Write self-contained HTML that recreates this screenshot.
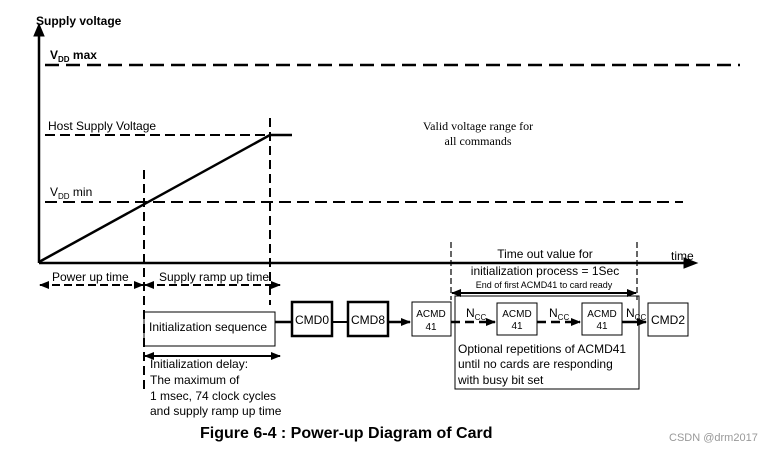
<!DOCTYPE html>
<html><head><meta charset="utf-8"><style>
body{margin:0;background:#fff;}
svg{display:block;font-family:"Liberation Sans",sans-serif;}
</style></head><body>
<svg width="773" height="452" viewBox="0 0 773 452">
<defs>
<marker id="a" markerWidth="10" markerHeight="8" refX="9" refY="4" orient="auto" markerUnits="userSpaceOnUse"><path d="M0,0 L10,4 L0,8z" fill="#000"/></marker>
<marker id="b" markerWidth="10" markerHeight="8" refX="1" refY="4" orient="auto" markerUnits="userSpaceOnUse"><path d="M10,0 L0,4 L10,8z" fill="#000"/></marker>
</defs>
<g stroke="#000" fill="none">
<line x1="39" y1="263" x2="39" y2="30" stroke-width="2.5"/>
<path d="M34,36 L39,24 L44,36z" fill="#000"/>
<line x1="39" y1="263" x2="686" y2="263" stroke-width="2.5"/>
<path d="M684,258 L697,263 L684,268z" fill="#000"/>
<line x1="45" y1="65" x2="740" y2="65" stroke-width="2.5" stroke-dasharray="14,7"/>
<line x1="45" y1="135" x2="270" y2="135" stroke-width="2" stroke-dasharray="10,5"/>
<line x1="270" y1="135" x2="292" y2="135" stroke-width="2.5"/>
<line x1="45" y1="202" x2="683" y2="202" stroke-width="2" stroke-dasharray="12,6"/>
<line x1="39" y1="262" x2="270" y2="135" stroke-width="2.5"/>
<line x1="144" y1="170" x2="144" y2="390" stroke-width="2" stroke-dasharray="9,5"/>
<line x1="270" y1="118" x2="270" y2="305" stroke-width="2" stroke-dasharray="9,5"/>
<line x1="40" y1="285" x2="143" y2="285" stroke-width="2" stroke-dasharray="8,4" marker-start="url(#b)" marker-end="url(#a)"/>
<line x1="145" y1="285" x2="280" y2="285" stroke-width="2" stroke-dasharray="8,4" marker-start="url(#b)" marker-end="url(#a)"/>
<line x1="145" y1="356" x2="280" y2="356" stroke-width="2" marker-start="url(#b)" marker-end="url(#a)"/>
<line x1="451" y1="242" x2="451" y2="300" stroke-width="1.2" stroke-dasharray="6,3"/>
<line x1="637" y1="242" x2="637" y2="300" stroke-width="1.2" stroke-dasharray="6,3"/>
<line x1="452" y1="293" x2="636" y2="293" stroke-width="2" marker-start="url(#b)" marker-end="url(#a)"/>
<rect x="144" y="312" width="131" height="34" stroke-width="1"/>
<line x1="275" y1="322" x2="292" y2="322" stroke-width="2.5"/>
<rect x="292" y="302" width="40" height="34" stroke-width="2.5"/>
<line x1="332" y1="322" x2="348" y2="322" stroke-width="2"/>
<rect x="348" y="302" width="40" height="34" stroke-width="2.5"/>
<line x1="388" y1="322" x2="410" y2="322" stroke-width="2.5" marker-end="url(#a)"/>
<rect x="412" y="302" width="39" height="34" stroke-width="1"/>
<rect x="455" y="296" width="184" height="93" stroke-width="1"/>
<line x1="451" y1="322" x2="495" y2="322" stroke-width="2.5" stroke-dasharray="9,5" marker-end="url(#a)"/>
<rect x="497" y="303" width="40" height="32" stroke-width="1"/>
<line x1="537" y1="322" x2="580" y2="322" stroke-width="2.5" stroke-dasharray="9,5" marker-end="url(#a)"/>
<rect x="582" y="303" width="40" height="32" stroke-width="1"/>
<line x1="622" y1="322" x2="646" y2="322" stroke-width="2.5" marker-end="url(#a)"/>
<rect x="648" y="303" width="40" height="33" stroke-width="1"/>
</g>
<g font-size="12" fill="#000">
<text x="36" y="25" font-weight="bold" font-size="12">Supply voltage</text>
<text x="50" y="59" font-weight="bold">V<tspan font-size="8" dy="3">DD</tspan><tspan dy="-3"> max</tspan></text>
<text x="48" y="130">Host Supply Voltage</text>
<text x="50" y="196">V<tspan font-size="8" dy="3">DD</tspan><tspan dy="-3"> min</tspan></text>
<text x="478" y="130" font-family="Liberation Serif,serif" text-anchor="middle">Valid voltage range for</text>
<text x="478" y="145" font-family="Liberation Serif,serif" text-anchor="middle">all commands</text>
<text x="671" y="260">time</text>
<text x="52" y="281">Power up time</text>
<text x="159" y="281">Supply ramp up time</text>
<text x="545" y="258" text-anchor="middle">Time out value for</text>
<text x="545" y="275" text-anchor="middle">initialization process = 1Sec</text>
<text x="544" y="288" text-anchor="middle" font-size="9">End of first ACMD41 to card ready</text>
<text x="149" y="331">Initialization sequence</text>
<text x="312" y="324" text-anchor="middle">CMD0</text>
<text x="368" y="324" text-anchor="middle">CMD8</text>
<text x="431" y="317" text-anchor="middle" font-size="10">ACMD</text>
<text x="431" y="330" text-anchor="middle" font-size="10">41</text>
<text x="517" y="317" text-anchor="middle" font-size="10">ACMD</text>
<text x="517" y="329" text-anchor="middle" font-size="10">41</text>
<text x="602" y="317" text-anchor="middle" font-size="10">ACMD</text>
<text x="602" y="329" text-anchor="middle" font-size="10">41</text>
<text x="668" y="324" text-anchor="middle">CMD2</text>
<text x="466" y="317">N<tspan font-size="8" dy="3">CC</tspan></text>
<text x="549" y="317">N<tspan font-size="8" dy="3">CC</tspan></text>
<text x="626" y="317">N<tspan font-size="8" dy="3">CC</tspan></text>
<text x="458" y="353">Optional repetitions of ACMD41</text>
<text x="458" y="368">until no cards are responding</text>
<text x="458" y="384">with busy bit set</text>
<text x="150" y="368">Initialization delay:</text>
<text x="150" y="384">The maximum of</text>
<text x="150" y="400">1 msec, 74 clock cycles</text>
<text x="150" y="415">and supply ramp up time</text>
<text x="200" y="438" font-size="16" font-weight="bold">Figure 6-4 : Power-up Diagram of Card</text>
<text x="669" y="441" font-size="11" fill="#999">CSDN @drm2017</text>
</g>
</svg>
</body></html>
